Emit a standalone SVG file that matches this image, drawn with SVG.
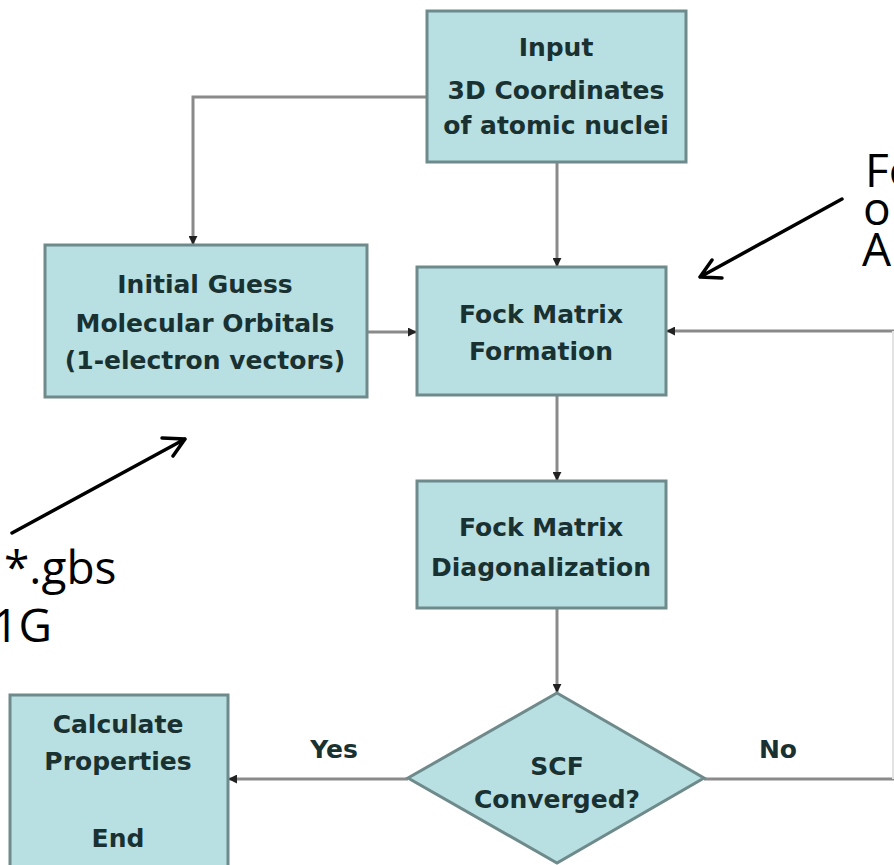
<svg xmlns="http://www.w3.org/2000/svg" width="894" height="865" viewBox="0 0 894 865">
<defs>
<style>
.box{fill:#b8dfe1;stroke:#6e8a8b;stroke-width:3}
.lbl{font-family:"DejaVu Sans",sans-serif;font-weight:bold;font-size:25px;fill:#1a3132;text-anchor:middle}
.con{fill:none;stroke:#8a8a8a;stroke-width:3}
.ann{fill:none;stroke:#000;stroke-width:3.5;stroke-linecap:round;stroke-linejoin:round}
.big{font-family:"Open Sans","Noto Sans",sans-serif;font-size:46px;fill:#000}
</style>
<marker id="ah" viewBox="0 0 10 10" refX="9" refY="5" markerWidth="3" markerHeight="3" orient="auto" markerUnits="strokeWidth">
<path d="M0,0 L10,5 L0,10 z" fill="#222"/>
</marker>
</defs>
<rect width="894" height="865" fill="#fff"/>

<g id="connectors">
<path class="con" d="M427,97 H193 V244" marker-end="url(#ah)"/>
<path class="con" d="M557,162 V266" marker-end="url(#ah)"/>
<path class="con" d="M367,332 H416" marker-end="url(#ah)"/>
<path class="con" d="M557,395 V480" marker-end="url(#ah)"/>
<path class="con" d="M557,608 V692" marker-end="url(#ah)"/>
<path class="con" d="M408,779 H229" marker-end="url(#ah)"/>
<path class="con" d="M704,779 H894"/>
<path class="con" d="M894,331 H667" marker-end="url(#ah)"/>
<line x1="893" y1="331" x2="893" y2="779" stroke="#e2e2e2" stroke-width="2"/>
</g>

<g id="input">
<rect class="box" x="427" y="11" width="259" height="151"/>
<text class="lbl" x="556" y="56">Input</text>
<text class="lbl" x="556" y="99">3D Coordinates</text>
<text class="lbl" x="556" y="134">of atomic nuclei</text>
</g>

<g id="initial-guess">
<rect class="box" x="45" y="245" width="322" height="152"/>
<text class="lbl" x="205" y="293">Initial Guess</text>
<text class="lbl" x="205" y="332">Molecular Orbitals</text>
<text class="lbl" x="205" y="369">(1-electron vectors)</text>
</g>

<g id="fock-formation">
<rect class="box" x="417" y="267" width="249" height="128"/>
<text class="lbl" x="541" y="323">Fock Matrix</text>
<text class="lbl" x="541" y="360">Formation</text>
</g>

<g id="fock-diag">
<rect class="box" x="417" y="481" width="249" height="127"/>
<text class="lbl" x="541" y="536">Fock Matrix</text>
<text class="lbl" x="541" y="576">Diagonalization</text>
</g>

<g id="scf">
<polygon class="box" points="557,693 704,778 557,863 408,778"/>
<text class="lbl" x="557" y="775">SCF</text>
<text class="lbl" x="557" y="808">Converged?</text>
</g>

<g id="calculate">
<rect class="box" x="10" y="695" width="218" height="185"/>
<text class="lbl" x="118" y="733">Calculate</text>
<text class="lbl" x="118" y="770">Properties</text>
<text class="lbl" x="118" y="847">End</text>
</g>

<g id="labels">
<text class="lbl" x="334" y="758">Yes</text>
<text class="lbl" x="778" y="758">No</text>
</g>

<g id="annotations">
<path class="ann" d="M12,533 L185,439 M162,438 L185,439 L173,456"/>
<path class="ann" d="M842,199 L700,277 M712,260 L700,277 L722,278"/>
<text class="big" x="865" y="187">Fo</text>
<text class="big" x="863" y="225">o</text>
<text class="big" x="862" y="266">A</text>
<text class="big" x="4" y="584">*.gbs</text>
<text class="big" x="52" y="642" text-anchor="end">1G</text>
</g>
</svg>
